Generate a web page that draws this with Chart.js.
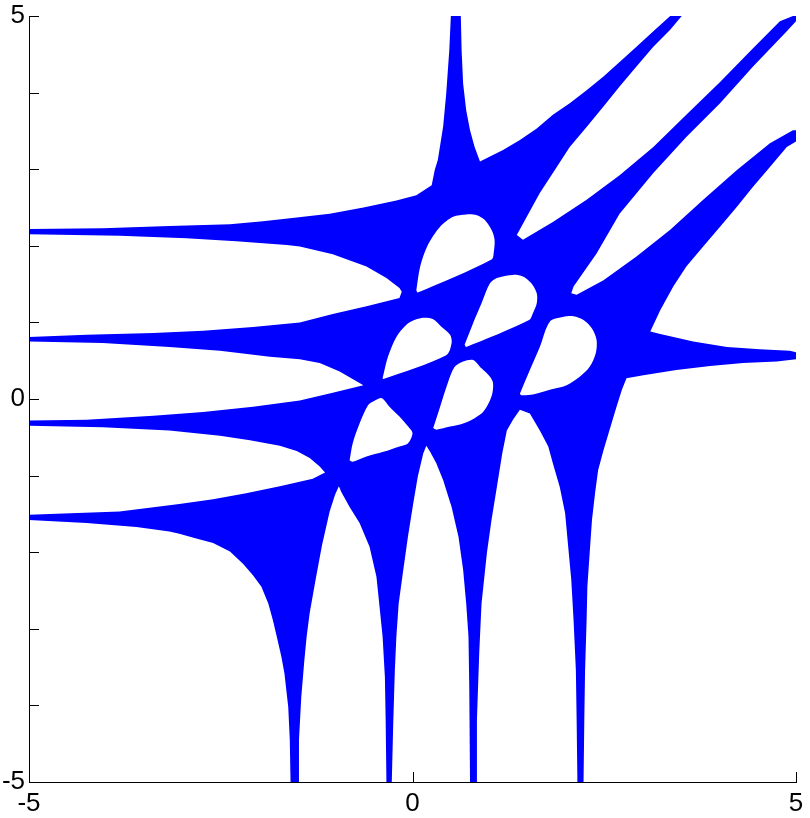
<!DOCTYPE html>
<html>
<head>
<meta charset="utf-8">
<script src="https://cdn.jsdelivr.net/npm/chart.js@4.4.0/dist/chart.umd.min.js"></script>
<style>
  html, body { margin: 0; padding: 0; background: #fff; }
  #wrap { width: 810px; height: 818px; }
</style>
</head>
<body>
<div id="wrap"><canvas id="regionChart" width="810" height="818"></canvas></div>
<script>
// axes
const xRange = [-5, 5];
const yRange = [-5, 5];
const xTickValues = [-5, 0, 5];
const yTickLabels = ['-5', '0', '5'];

// the region covers the whole box, the white gaps and holes are cut out of it
const plotBox = [[-5, -5], [5, -5], [5, 5], [-5, 5]];

// white gaps that reach the frame, [x, y]
const gapTopLeft = [[-5, 5], [0.50, 5], [0.48, 4.56], [0.44, 3.99], [0.40, 3.56], [0.33, 3.12], [0.29, 2.99],
  [0.25, 2.79], [0.05, 2.66], [-0.21, 2.59], [-0.64, 2.50], [-1.08, 2.42], [-1.51, 2.37], [-1.95, 2.32],
  [-2.38, 2.28], [-3.17, 2.26], [-4.04, 2.23], [-5, 2.22]];
const gapTopSpike = [[0.63, 5], [0.64, 4.56], [0.66, 4.12], [0.70, 3.77], [0.75, 3.51], [0.81, 3.29], [0.88, 3.10],
  [1.18, 3.25], [1.40, 3.38], [1.62, 3.53], [1.83, 3.71], [2.05, 3.86], [2.27, 4.03], [2.49, 4.21],
  [2.70, 4.40], [2.92, 4.60], [3.14, 4.80], [3.36, 5]];
const gapDiagA = [[3.51, 5], [3.36, 4.82], [3.14, 4.60], [2.92, 4.34], [2.70, 4.08], [2.49, 3.82], [2.27, 3.55],
  [2.05, 3.29], [1.83, 2.95], [1.66, 2.69], [1.49, 2.38], [1.36, 2.14], [1.44, 2.08], [1.83, 2.31],
  [2.27, 2.60], [2.70, 2.92], [3.14, 3.29], [3.57, 3.71], [4.01, 4.14], [4.44, 4.58], [4.79, 4.93], [4.96, 5]];
const gapDiagB = [[5, 4.93], [4.88, 4.80], [4.44, 4.34], [4.01, 3.86], [3.57, 3.42], [3.14, 2.95], [2.70, 2.42],
  [2.40, 1.90], [2.10, 1.47], [2.07, 1.38], [2.14, 1.36], [2.49, 1.55], [2.92, 1.86], [3.36, 2.21],
  [3.79, 2.60], [4.23, 2.99], [4.66, 3.34], [4.96, 3.51], [5, 3.51]];
const gapRightSpike = [[5, 3.36], [4.88, 3.29], [4.66, 3.03], [4.44, 2.77], [4.23, 2.51], [4.01, 2.25], [3.79, 1.99],
  [3.57, 1.73], [3.40, 1.47], [3.23, 1.16], [3.10, 0.88], [3.23, 0.85], [3.66, 0.75], [4.10, 0.68],
  [4.53, 0.65], [4.92, 0.63], [5, 0.61]];
const gapLowerRight = [[5, 0.52], [4.75, 0.49], [4.31, 0.47], [3.88, 0.43], [3.44, 0.38], [3.01, 0.31], [2.79, 0.27],
  [2.73, 0.12], [2.66, -0.10], [2.57, -0.40], [2.49, -0.67], [2.42, -0.93], [2.38, -1.23], [2.34, -1.58],
  [2.31, -2.01], [2.28, -2.45], [2.27, -2.89], [2.25, -3.54], [2.24, -4.19], [2.23, -5], [5, -5]];
const gapBottomC = [[1.40, -0.14], [1.53, -0.19], [1.66, -0.41], [1.77, -0.62], [1.83, -0.84], [1.92, -1.15],
  [1.99, -1.49], [2.03, -1.93], [2.07, -2.36], [2.10, -2.89], [2.13, -3.54], [2.14, -4.19], [2.15, -5],
  [0.83, -5], [0.84, -4.19], [0.87, -3.32], [0.90, -2.67], [0.97, -2.01], [1.03, -1.58], [1.10, -1.15],
  [1.17, -0.71], [1.23, -0.41], [1.31, -0.27]];
const gapBottomB = [[0.18, -0.61], [0.23, -0.69], [0.31, -0.84], [0.40, -1.06], [0.51, -1.41], [0.60, -1.80],
  [0.66, -2.23], [0.70, -2.67], [0.73, -3.10], [0.74, -3.76], [0.75, -5], [-0.27, -5], [-0.25, -4.19],
  [-0.23, -3.54], [-0.21, -3.10], [-0.18, -2.67], [-0.12, -2.23], [-0.06, -1.80], [0.01, -1.36],
  [0.07, -1.01], [0.14, -0.71]];
const gapBottomA = [[-0.96, -1.14], [-0.93, -1.21], [-0.82, -1.41], [-0.69, -1.62], [-0.56, -1.93], [-0.47, -2.32],
  [-0.43, -2.71], [-0.39, -3.10], [-0.36, -3.63], [-0.35, -4.19], [-0.34, -5], [-1.49, -5], [-1.48, -4.45],
  [-1.45, -3.89], [-1.41, -3.41], [-1.38, -3.10], [-1.34, -2.79], [-1.26, -2.34], [-1.18, -1.91],
  [-1.08, -1.47], [-1.01, -1.25]];
const gapBottomLeft = [[-5, -5], [-5, -1.58], [-4.25, -1.62], [-3.60, -1.67], [-3.17, -1.73], [-3.04, -1.76],
  [-2.82, -1.82], [-2.60, -1.88], [-2.38, -1.99], [-2.21, -2.15], [-2.08, -2.30], [-1.97, -2.45],
  [-1.88, -2.67], [-1.82, -2.89], [-1.77, -3.10], [-1.71, -3.36], [-1.67, -3.58], [-1.62, -4.02],
  [-1.60, -4.45], [-1.59, -5]];
const gapLeftC = [[-5, -0.35], [-5, -1.51], [-3.82, -1.47], [-3.04, -1.37], [-2.60, -1.31], [-2.17, -1.23],
  [-1.73, -1.14], [-1.30, -1.04], [-1.14, -0.96], [-1.21, -0.88], [-1.34, -0.77], [-1.51, -0.68],
  [-1.73, -0.61], [-2.12, -0.54], [-2.51, -0.48], [-3.17, -0.41], [-4.04, -0.37]];
const gapLeftB = [[-5, 0.75], [-5, -0.28], [-4.25, -0.27], [-3.38, -0.22], [-2.73, -0.17], [-2.08, -0.10],
  [-1.47, -0.02], [-1.04, 0.08], [-0.64, 0.18], [-0.95, 0.36], [-1.21, 0.47], [-1.47, 0.52], [-1.86, 0.55],
  [-2.51, 0.63], [-3.17, 0.68], [-4.04, 0.73]];
const gapLeftA = [[-5, 2.15], [-5, 0.81], [-4.25, 0.84], [-3.38, 0.86], [-2.73, 0.89], [-2.08, 0.94], [-1.47, 1.00],
  [-1.04, 1.11], [-0.60, 1.21], [-0.17, 1.32], [-0.14, 1.40], [-0.17, 1.45], [-0.34, 1.58], [-0.60, 1.73],
  [-1.04, 1.89], [-1.47, 1.99], [-1.64, 2.01], [-2.30, 2.06], [-2.95, 2.10], [-3.82, 2.13]];

// closed holes in the middle
const hole1 = [[0.05, 1.42], [0.10, 1.73], [0.20, 2.01], [0.36, 2.25], [0.53, 2.38], [0.70, 2.41], [0.84, 2.40],
  [0.94, 2.34], [1.03, 2.21], [1.07, 2.08], [1.06, 1.92], [1.03, 1.82], [0.07, 1.39]];
const hole2 = [[0.68, 0.71], [0.79, 0.99], [0.90, 1.25], [1.01, 1.51], [1.10, 1.58], [1.31, 1.62], [1.44, 1.60],
  [1.55, 1.51], [1.62, 1.38], [1.62, 1.25], [1.57, 1.12], [1.52, 1.03], [0.70, 0.68]];
const hole3 = [[1.40, 0.07], [1.53, 0.38], [1.66, 0.68], [1.79, 1.01], [1.96, 1.07], [2.10, 1.08], [2.23, 1.03],
  [2.34, 0.92], [2.40, 0.77], [2.39, 0.60], [2.31, 0.42], [2.18, 0.29], [2.01, 0.18], [1.79, 0.12],
  [1.57, 0.06], [1.42, 0.05]];
const hole4 = [[-0.39, 0.27], [-0.32, 0.55], [-0.21, 0.81], [-0.08, 0.97], [0.05, 1.04], [0.16, 1.06], [0.27, 1.04],
  [0.38, 0.94], [0.49, 0.84], [0.51, 0.73], [0.44, 0.57], [-0.38, 0.26]];
const hole5 = [[0.27, -0.38], [0.36, -0.10], [0.46, 0.21], [0.55, 0.42], [0.66, 0.49], [0.79, 0.51], [0.90, 0.40],
  [1.01, 0.29], [1.05, 0.21], [1.04, 0.07], [0.99, -0.06], [0.92, -0.17], [0.81, -0.25], [0.66, -0.32],
  [0.49, -0.36], [0.31, -0.40]];
const hole6 = [[-0.82, -0.80], [-0.78, -0.58], [-0.69, -0.32], [-0.58, -0.08], [-0.49, -0.02], [-0.40, 0.01],
  [-0.30, -0.10], [-0.17, -0.23], [-0.04, -0.38], [0.00, -0.45], [-0.06, -0.58], [-0.17, -0.62],
  [-0.38, -0.69], [-0.60, -0.75], [-0.78, -0.82]];

const gaps = [gapTopLeft, gapTopSpike, gapDiagA, gapDiagB, gapRightSpike, gapLowerRight, gapBottomC,
  gapBottomB, gapBottomA, gapBottomLeft, gapLeftC, gapLeftB, gapLeftA];
const holes = [hole1, hole2, hole3, hole4, hole5, hole6];

function toPoints(poly) {
  let pts = poly.map(p => ({x: p[0], y: p[1]}));
  pts.push({x: poly[0][0], y: poly[0][1]});
  return pts;
}

function shapeSet(poly, color, order, tension) {
  return {
    data: toPoints(poly),
    showLine: true,
    fill: 'shape',
    tension: tension,
    backgroundColor: color,
    borderColor: 'rgba(0,0,0,0)',
    borderWidth: 0,
    pointRadius: 0,
    pointHoverRadius: 0,
    order: order
  };
}

let datasets = [];
// gaps keep straight edges (they run into the frame), holes get rounded a bit
gaps.forEach(poly => datasets.push(shapeSet(poly, '#ffffff', 1, 0)));
holes.forEach(poly => datasets.push(shapeSet(poly, '#ffffff', 1, 0.3)));
datasets.push(shapeSet(plotBox, '#0000ff', 2, 0));

// tick marks point into the plot
const inwardTicks = {
  id: 'inwardTicks',
  afterDatasetsDraw(chart) {
    const {ctx, chartArea, scales} = chart;
    ctx.save();
    ctx.strokeStyle = '#000';
    ctx.lineWidth = 1;
    ctx.beginPath();
    scales.y.ticks.forEach(t => {
      let py = Math.round(scales.y.getPixelForValue(t.value)) + 0.5;
      ctx.moveTo(chartArea.left, py);
      ctx.lineTo(chartArea.left + 10, py);
    });
    scales.x.ticks.forEach(t => {
      let px = Math.round(scales.x.getPixelForValue(t.value)) + 0.5;
      ctx.moveTo(px, chartArea.bottom);
      ctx.lineTo(px, chartArea.bottom - 10);
    });
    ctx.stroke();
    ctx.restore();
  }
};

const fontFamily = '"Liberation Sans", Arial, Helvetica, sans-serif';

new Chart(document.getElementById('regionChart'), {
  type: 'scatter',
  data: {datasets: datasets},
  options: {
    responsive: false,
    animation: false,
    events: [],
    layout: {padding: {top: 16, right: 14, left: 0, bottom: 0}},
    plugins: {legend: {display: false}, tooltip: {enabled: false}},
    scales: {
      x: {
        type: 'linear',
        min: xRange[0],
        max: xRange[1],
        afterBuildTicks: axis => { axis.ticks = xTickValues.map(v => ({value: v})); },
        afterFit: axis => { axis.height = 36; },
        grid: {display: false, drawTicks: false},
        border: {display: true, color: '#000', width: 1, z: 1},
        ticks: {font: {family: fontFamily, size: 26}, color: '#000', padding: 6, maxRotation: 0,
          autoSkip: false, callback: v => String(v)}
      },
      y: {
        type: 'linear',
        min: yRange[0],
        max: yRange[1],
        afterFit: axis => { axis.width = 29; },
        grid: {display: false, drawTicks: false},
        border: {display: true, color: '#000', width: 1, z: 1},
        ticks: {font: {family: fontFamily, size: 26, lineHeight: 0.9}, color: '#000', padding: 4,
          stepSize: 1, autoSkip: false,
          callback: v => yTickLabels.includes(String(v)) ? String(v) : ''}
      }
    }
  },
  plugins: [inwardTicks]
});
</script>
</body>
</html>
